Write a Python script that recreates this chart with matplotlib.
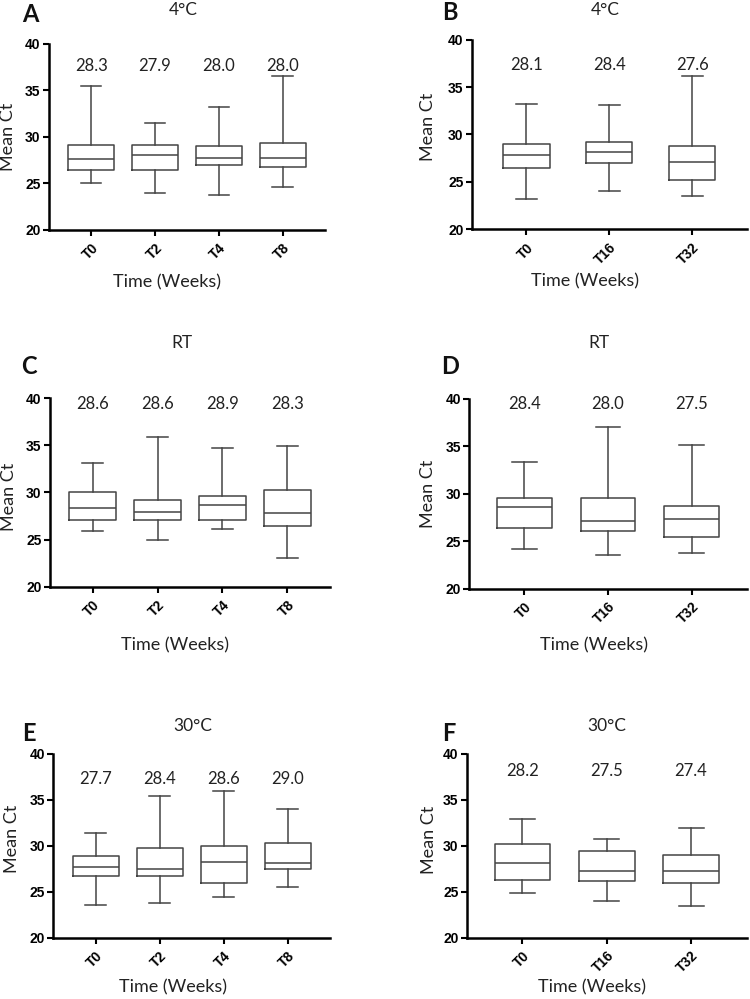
"""Six box plots of mean Ct over time at 4°C, RT and 30°C."""
import numpy as np
import matplotlib
matplotlib.use("Agg")
import matplotlib.pyplot as plt

# --- data ---------------------------------------------------------------
cats_short = ["T0", "T2", "T4", "T8"]
cats_long = ["T0", "T16", "T32"]

# each panel: whisker low, Q1, median, Q3, whisker high
A_lo = [25.0, 24.0, 23.8, 24.6]
A_q1 = [26.5, 26.5, 27.0, 26.8]
A_med = [27.6, 28.1, 27.75, 27.75]
A_q3 = [29.1, 29.1, 29.0, 29.3]
A_hi = [35.5, 31.5, 33.25, 36.6]
A_mean = ["28.3", "27.9", "28.0", "28.0"]

B_lo = [23.2, 24.0, 23.5]
B_q1 = [26.5, 27.0, 25.2]
B_med = [27.8, 28.15, 27.1]
B_q3 = [29.0, 29.2, 28.8]
B_hi = [33.2, 33.1, 36.2]
B_mean = ["28.1", "28.4", "27.6"]

C_lo = [25.9, 25.0, 26.1, 23.0]
C_q1 = [27.1, 27.1, 27.1, 26.4]
C_med = [28.3, 27.95, 28.7, 27.85]
C_q3 = [30.0, 29.2, 29.65, 30.2]
C_hi = [33.1, 35.9, 34.7, 34.95]
C_mean = ["28.6", "28.6", "28.9", "28.3"]

D_lo = [24.2, 23.55, 23.8]
D_q1 = [26.4, 26.1, 25.4]
D_med = [28.6, 27.1, 27.3]
D_q3 = [29.56, 29.56, 28.7]
D_hi = [33.4, 37.0, 35.15]
D_mean = ["28.4", "28.0", "27.5"]

E_lo = [23.55, 23.85, 24.5, 25.55]
E_q1 = [26.7, 26.7, 26.0, 27.46]
E_med = [27.7, 27.5, 28.26, 28.1]
E_q3 = [28.9, 29.75, 29.96, 30.36]
E_hi = [31.4, 35.4, 36.0, 34.0]
E_mean = ["27.7", "28.4", "28.6", "29.0"]

F_lo = [24.9, 24.0, 23.4]
F_q1 = [26.3, 26.17, 25.9]
F_med = [28.1, 27.26, 27.26]
F_q3 = [30.16, 29.44, 29.0]
F_hi = [32.9, 30.7, 31.9]
F_mean = ["28.2", "27.5", "27.4"]

# --- layout -------------------------------------------------------------
panels = [
    # letter, title, cats, lo, q1, med, q3, hi, means, mean_y, axes rect,
    # box width, title xy, letter xy, xlabel xy, ylabel xy
    ("A", "4°C", cats_short, A_lo, A_q1, A_med, A_q3, A_hi, A_mean, 37.6,
     [0.0653, 0.7698, 0.368, 0.1862], 0.72, (0.486, 1.18), (-0.069, 1.16),
     (0.426, -0.28), (-0.149, 0.50)),
    ("B", "4°C", cats_long, B_lo, B_q1, B_med, B_q3, B_hi, B_mean, 37.3,
     [0.629, 0.7705, 0.3667, 0.1898], 0.56, (0.485, 1.157), (-0.079, 1.143),
     (0.41, -0.275), (-0.159, 0.54)),
    ("C", "RT", cats_short, C_lo, C_q1, C_med, C_q3, C_hi, C_mean, 39.4,
     [0.0667, 0.4127, 0.3733, 0.1889], 0.72, (0.47, 1.293), (-0.075, 1.166),
     (0.446, -0.31), (-0.146, 0.477)),
    ("D", "RT", cats_long, D_lo, D_q1, D_med, D_q3, D_hi, D_mean, 39.5,
     [0.6257, 0.4108, 0.3699, 0.1899], 0.65, (0.468, 1.297), (-0.07, 1.17),
     (0.45, -0.30), (-0.148, 0.50)),
    ("E", "30°C", cats_short, E_lo, E_q1, E_med, E_q3, E_hi, E_mean, 37.3,
     [0.0711, 0.0611, 0.369, 0.1842], 0.72, (0.504, 1.154), (-0.088, 1.109),
     (0.434, -0.27), (-0.15, 0.54)),
    ("F", "30°C", cats_long, F_lo, F_q1, F_med, F_q3, F_hi, F_mean, 38.1,
     [0.6223, 0.0614, 0.3733, 0.1839], 0.66, (0.50, 1.154), (-0.063, 1.109),
     (0.446, -0.27), (-0.135, 0.53)),
]

LAB_FONT = ["Lato", "DejaVu Sans"]
TICK_FONT = ["Liberation Sans Narrow", "Liberation Sans", "DejaVu Sans"]
BOX_COL = "#444444"

fig = plt.figure(figsize=(7.5, 9.99), dpi=100)

for (letter, title, cats, lo, q1, med, q3, hi, means, mean_y, rect, bw,
     t_xy, l_xy, xl_xy, yl_xy) in panels:
    ax = fig.add_axes(rect)
    stats = [dict(whislo=a, q1=b, med=c, q3=d, whishi=e, fliers=[])
             for a, b, c, d, e in zip(lo, q1, med, q3, hi)]
    pos = np.arange(len(cats))
    lp = dict(color=BOX_COL, lw=1.1)
    ax.bxp(stats, positions=pos, widths=bw, capwidths=bw * 0.45,
           showfliers=False, boxprops=lp, whiskerprops=lp, capprops=lp,
           medianprops=lp)

    ax.set_ylim(20, 40)
    ax.set_yticks([20, 25, 30, 35, 40])
    n = len(cats)
    ax.set_xlim(-0.66, n - 1 + 0.66)
    ax.set_xticks(pos)
    ax.set_xticklabels(cats, rotation=45, ha="right", rotation_mode="anchor",
                       family=TICK_FONT, fontweight="bold", fontsize=10)
    for t in ax.get_yticklabels():
        t.set_family(TICK_FONT)
        t.set_fontweight("bold")
        t.set_fontsize(10)
    ax.tick_params(direction="out", length=4, width=1.5, color="black",
                   pad=2)
    ax.tick_params(axis="x", pad=4)
    for s in ["top", "right"]:
        ax.spines[s].set_visible(False)
    for s in ["left", "bottom"]:
        ax.spines[s].set_linewidth(1.8)
        ax.spines[s].set_color("black")

    for x, m in zip(pos, means):
        ax.text(x, mean_y, m, ha="center", va="center", fontsize=12,
                family=LAB_FONT, color="#222222")

    ax.text(t_xy[0], t_xy[1], title, transform=ax.transAxes, ha="center",
            va="center", fontsize=12.5, family=LAB_FONT, color="#222222")
    ax.text(l_xy[0], l_xy[1], letter, transform=ax.transAxes, ha="center",
            va="center", fontsize=17, fontweight="bold", family=LAB_FONT,
            color="#111111")

    ax.set_xlabel("Time (Weeks)", fontsize=13, family=LAB_FONT,
                  color="#222222", va="center")
    ax.xaxis.set_label_coords(*xl_xy)
    ax.set_ylabel("Mean Ct", fontsize=13, family=LAB_FONT,
                  color="#222222", va="center")
    ax.yaxis.set_label_coords(*yl_xy)

fig.savefig("out.png", dpi=100)
print("saved out.png")
